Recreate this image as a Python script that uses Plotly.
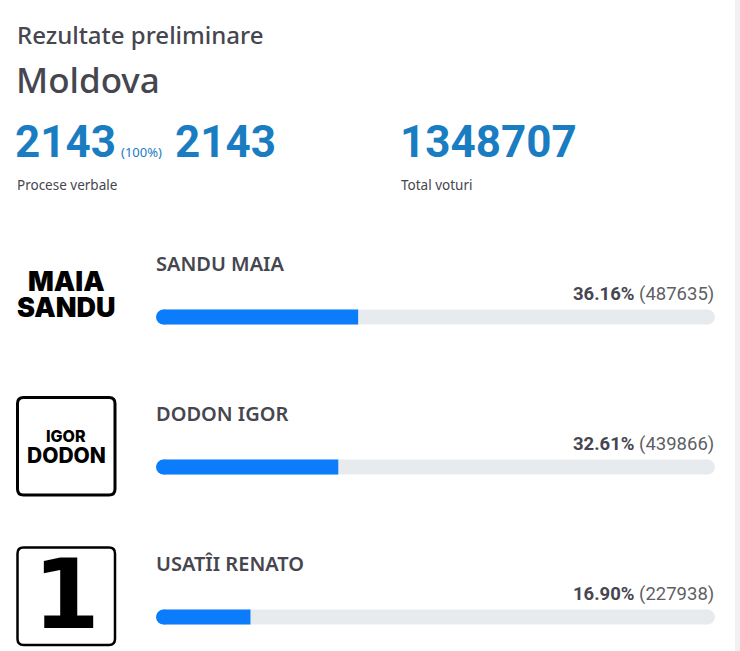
import plotly.graph_objects as go

# ---- data ----
candidates = ["SANDU MAIA", "DODON IGOR", "USATÎI RENATO"]
percents = [36.16, 32.61, 16.90]
votes = [487635, 439866, 227938]
sections_counted = 2143
sections_total = 2143
sections_pct = 100
total_votes = 1348707

W, H = 740, 651
DARK = "#46464f"
BLUE_TXT = "#1a7dc2"
BAR_BLUE = "#0b7cfb"
TRACK = "#e8ebee"
TEXTFONT = "Noto Sans"
BAR_PX = 15
TRACK_X0, TRACK_X1 = 156, 715


def px(x):
    return x / W


def py(y):
    return 1 - y / H


# half the bar height expressed in axis units (for the round end caps)
cap = (BAR_PX / 2) / (TRACK_X1 - TRACK_X0) * 100
n = len(candidates)

fig = go.Figure()

# track: body between the cap centres, round cap on the right
fig.add_trace(go.Bar(y=candidates, x=[100 - 2 * cap] * n, base=[cap] * n, orientation="h",
                     width=0.1, marker=dict(color=TRACK, line_width=0),
                     hoverinfo="skip", showlegend=False))
# value bars
fig.add_trace(go.Bar(y=candidates, x=[p - cap for p in percents], base=[cap] * n,
                     orientation="h", width=0.1, marker=dict(color=BAR_BLUE, line_width=0),
                     hoverinfo="skip", showlegend=False))
fig.add_trace(go.Scatter(y=candidates, x=[100 - cap] * n, mode="markers",
                         marker=dict(color=TRACK, size=BAR_PX, line_width=0),
                         hoverinfo="skip", showlegend=False, cliponaxis=False))
fig.add_trace(go.Scatter(y=candidates, x=[cap] * n, mode="markers",
                         marker=dict(color=BAR_BLUE, size=BAR_PX, line_width=0),
                         hoverinfo="skip", showlegend=False, cliponaxis=False))

ann = []


def txt(x, y, text, size, color=DARK, family=TEXTFONT, xanchor="left", weight=None):
    f = dict(size=size, color=color, family=family)
    if weight:
        f["weight"] = weight
    ann.append(dict(x=px(x), y=py(y), xref="paper", yref="paper", text=text, showarrow=False,
                    xanchor=xanchor, yanchor="middle", font=f))


txt(15, 35, "Rezultate preliminare", 24, weight=500)
txt(14, 80, "Moldova", 35, weight=500)
txt(13, 142, str(sections_counted), 44, BLUE_TXT, "Roboto", weight=700)
txt(119, 152, f"({sections_pct}%)", 13, BLUE_TXT)
txt(173, 142, str(sections_total), 44, BLUE_TXT, "Roboto", weight=700)
txt(398, 142, str(total_votes), 44, BLUE_TXT, "Roboto", weight=700)
txt(15, 185, "Procese verbale", 13.5)
txt(399, 185, "Total voturi", 13.5)

for c, p, v in zip(candidates, percents, votes):
    ann.append(dict(x=0, y=c, xref="x", yref="y", text=c, showarrow=False,
                    xanchor="left", yanchor="middle", yshift=54, xshift=-2,
                    font=dict(size=20, color=DARK, family=TEXTFONT, weight=600)))
    ann.append(dict(x=100, y=c, xref="x", yref="y",
                    text=f"<b>{p:.2f}%</b> <span style='color:#5f5f66'>({v})</span>",
                    showarrow=False, xanchor="right", yanchor="middle", yshift=23, xshift=1,
                    font=dict(size=18.5, color=DARK, family="Roboto")))

# logos
LOGO = "Inter"
txt(66, 281, "MAIA", 27, "#000", LOGO, "center", 900)
txt(66, 307, "SANDU", 27, "#000", LOGO, "center", 900)
txt(66, 436, "IGOR", 16, "#000", LOGO, "center", 800)
txt(66, 455, "DODON", 21, "#000", LOGO, "center", 800)
txt(66, 595, "1", 96, "#000", "DejaVu Sans", "center", 700)


def rrect(x0, y0, x1, y1, r):
    X0, X1 = px(x0), px(x1)
    Y0, Y1 = py(y0), py(y1)
    rx, ry = r / W, r / H
    return (f"M {X0+rx},{Y0} L {X1-rx},{Y0} Q {X1},{Y0} {X1},{Y0-ry} "
            f"L {X1},{Y1+ry} Q {X1},{Y1} {X1-rx},{Y1} L {X0+rx},{Y1} "
            f"Q {X0},{Y1} {X0},{Y1+ry} L {X0},{Y0-ry} Q {X0},{Y0} {X0+rx},{Y0} Z")


shapes = [
    dict(type="path", xref="paper", yref="paper", path=rrect(17.5, 397.5, 115, 495, 6),
         line=dict(color="#000", width=3)),
    dict(type="path", xref="paper", yref="paper", path=rrect(17.5, 547.5, 115, 645, 6),
         line=dict(color="#000", width=2.5)),
    dict(type="rect", xref="paper", yref="paper", x0=px(735), x1=1, y0=0, y1=1,
         fillcolor="#f1f1f1", line_width=0, layer="below"),
]

fig.update_layout(
    width=W, height=H, margin=dict(l=0, r=0, t=0, b=0),
    paper_bgcolor="white", plot_bgcolor="rgba(0,0,0,0)",
    barmode="overlay", showlegend=False,
    xaxis=dict(domain=[px(TRACK_X0), px(TRACK_X1)], range=[0, 100], visible=False,
               fixedrange=True),
    yaxis=dict(domain=[0, py(242)], type="category", categoryorder="array",
               categoryarray=candidates, range=[2.2267, -0.5], visible=False, fixedrange=True),
    annotations=ann, shapes=shapes,
)

fig.write_html("out.html", config=dict(displayModeBar=False))
